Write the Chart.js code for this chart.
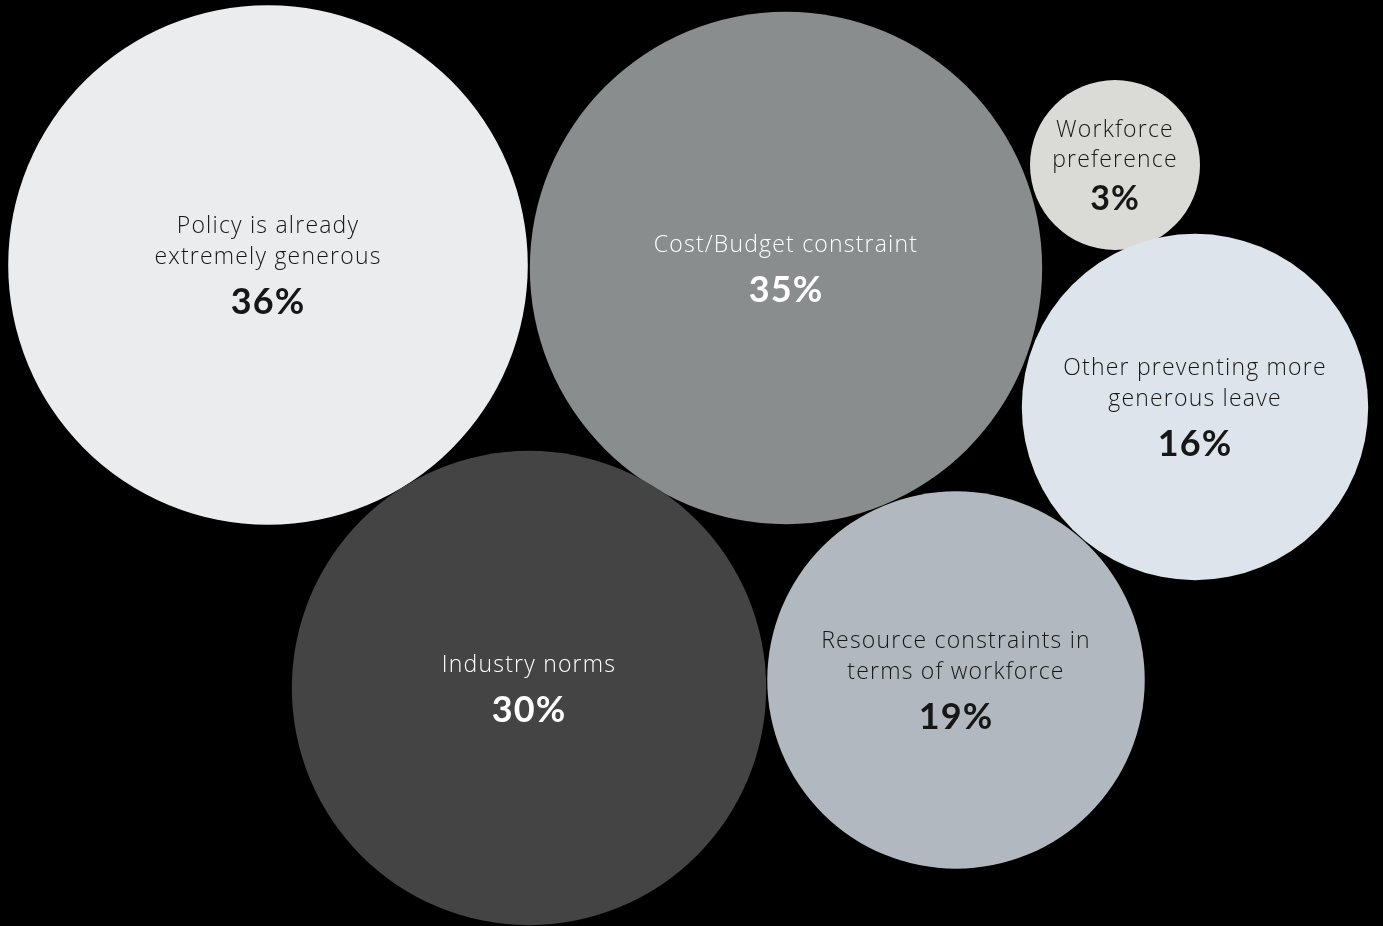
<!DOCTYPE html>
<html>
<head>
<meta charset="utf-8">
<script src="https://cdn.jsdelivr.net/npm/chart.js@4"></script>
<style>
  html, body { margin: 0; padding: 0; background: #000; }
  #wrap { width: 1383px; height: 926px; }
</style>
</head>
<body>
<div id="wrap"><canvas id="bubbleChart"></canvas></div>
<script>
// Reasons given, share of respondents (%)
const categories = [
  ['Policy is already', 'extremely generous'],
  ['Cost/Budget constraint'],
  ['Workforce', 'preference'],
  ['Other preventing more', 'generous leave'],
  ['Industry norms'],
  ['Resource constraints in', 'terms of workforce']
];
const shares = [36, 35, 3, 16, 30, 19];

// packed layout of the bubbles, in axis units
const centerX = [268, 786, 1115, 1195, 529, 956];
const centerY = [265, 268, 165, 407, 688, 680];

const fills = ['#ebecee', '#898d8d', '#dadad6', '#dde4eb', '#444444', '#b2b8bf'];
const inks = ['#161616', '#ffffff', '#161616', '#161616', '#ffffff', '#161616'];

const RADIUS_PER_ROOT = 43.3;
const MIN_RADIUS = 85;

const bubbleLabels = {
  id: 'bubbleLabels',
  afterDatasetsDraw(chart) {
    const { ctx } = chart;
    const meta = chart.getDatasetMeta(0);
    ctx.save();
    ctx.textAlign = 'center';
    ctx.textBaseline = 'alphabetic';
    meta.data.forEach((pt, i) => {
      const lines = categories[i];
      const small = pt.options.radius < 100;
      const lineH = small ? 30 : 31;
      const gap = small ? 43 : 50;
      const cap = 17;
      const blockH = cap + (lines.length - 1) * lineH + gap;
      let y = pt.y - blockH / 2 + cap;
      ctx.fillStyle = inks[i];
      ctx.letterSpacing = '1.2px';
      ctx.font = '300 23px "Open Sans", Lato, sans-serif';
      lines.forEach((line, k) => {
        ctx.fillText(line, pt.x, y + k * lineH);
      });
      y += (lines.length - 1) * lineH + gap;
      ctx.letterSpacing = '1px';
      ctx.font = 'bold ' + (small ? 34 : 36) + 'px Lato, "Noto Sans", sans-serif';
      ctx.fillText(shares[i] + '%', pt.x, y);
    });
    ctx.restore();
  }
};

new Chart(document.getElementById('bubbleChart'), {
  type: 'bubble',
  data: {
    datasets: [{
      data: shares.map((v, i) => ({ x: centerX[i], y: centerY[i], v: v })),
      backgroundColor: fills,
      borderWidth: 0,
      hoverBorderWidth: 0,
      radius: c => Math.max(MIN_RADIUS, RADIUS_PER_ROOT * Math.sqrt(c.raw.v)),
      clip: false
    }]
  },
  options: {
    responsive: true,
    maintainAspectRatio: false,
    animation: false,
    events: [],
    layout: { padding: 0, autoPadding: false },
    scales: {
      x: { type: 'linear', min: 0, max: 1383, display: false },
      y: { type: 'linear', min: 0, max: 926, reverse: true, display: false }
    },
    plugins: {
      legend: { display: false },
      tooltip: { enabled: false }
    }
  },
  plugins: [bubbleLabels]
});
</script>
</body>
</html>
